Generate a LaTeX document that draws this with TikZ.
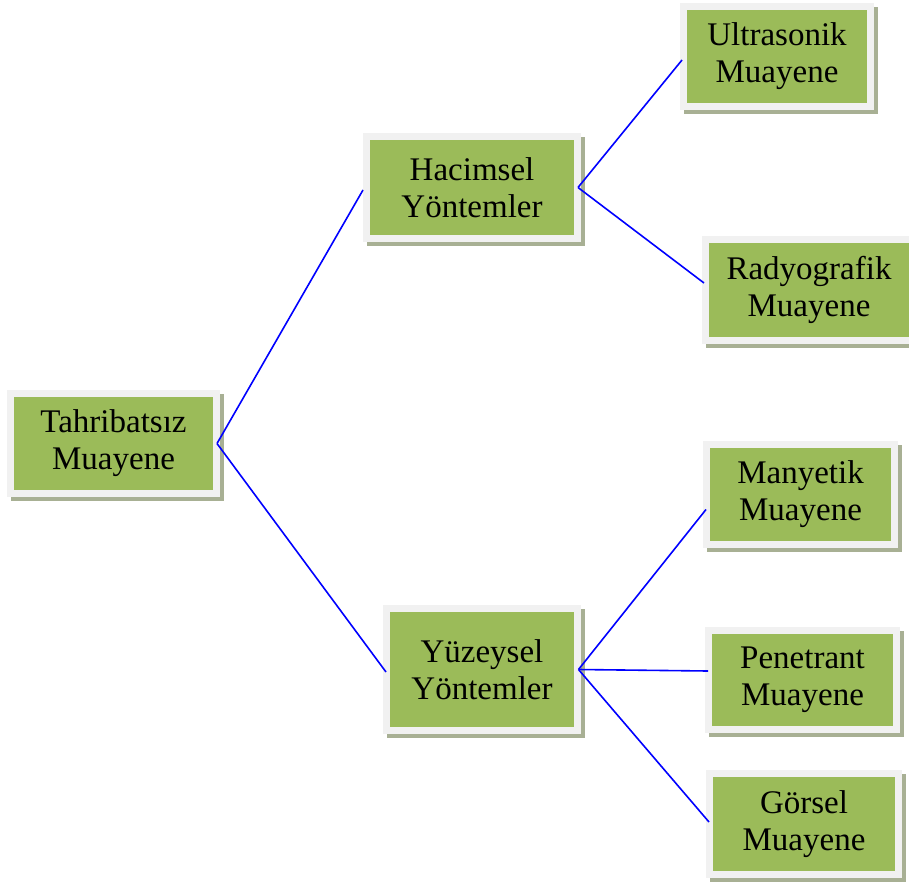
\documentclass[tikz,border=0pt]{standalone}
\usepackage{fontspec}
\setmainfont{Liberation Serif}
\usetikzlibrary{backgrounds}
\definecolor{boxgreen}{RGB}{155,187,89}
\definecolor{framegray}{RGB}{241,241,241}
\definecolor{shadowgray}{RGB}{168,176,148}
\begin{document}
\begin{tikzpicture}[x=1pt,y=-1pt,
  box/.style={fill=boxgreen, draw=framegray, line width=7pt, inner sep=0pt, align=center,
    text=black, font=\fontsize{33}{37}\selectfont},
  link/.style={draw=blue, line width=1.6pt}]
\useasboundingbox (0,0) rectangle (909,883);
\node[box, minimum width=206pt, minimum height=100pt] (T) at (113.5,443.5) {Tahribatsız\\Muayene};
\node[box, minimum width=211pt, minimum height=102pt] (H) at (472,187.5) {Hacimsel\\Yöntemler};
\node[box, minimum width=191pt, minimum height=122pt] (Y) at (482,669.5) {Yüzeysel\\Yöntemler};
\node[box, minimum width=187pt, minimum height=100pt] (U) at (777,56.5) {Ultrasonik\\Muayene};
\node[box, minimum width=207pt, minimum height=101pt] (R) at (809,290) {Radyografik\\Muayene};
\node[box, minimum width=188pt, minimum height=100pt] (M) at (800.5,494.5) {Manyetik\\Muayene};
\node[box, minimum width=188pt, minimum height=99pt] (P) at (802.5,680) {Penetrant\\Muayene};
\node[box, minimum width=189pt, minimum height=101pt] (G) at (804,824) {Görsel\\Muayene};
\begin{scope}[on background layer]
  \foreach \n in {T,H,Y,U,R,M,P,G}
    \fill[shadowgray] ([shift={(4,4)}]\n.south west) rectangle ([shift={(4,4)}]\n.north east);
\end{scope}
\coordinate (Tout) at ([xshift=-3pt]T.east);
\coordinate (Hout) at ([xshift=-3pt]H.east);
\coordinate (Yout) at ([xshift=-2.5pt]Y.east);
\draw[link] (Tout) -- ([shift={(0,2.5)}]H.west);
\draw[link] (Tout) -- ([shift={(3,2.5)}]Y.west);
\draw[link] (Hout) -- ([shift={(2,3.5)}]U.west);
\draw[link] (Hout) -- ([shift={(2,-7)}]R.west);
\draw[link] (Yout) -- ([shift={(3,15)}]M.west);
\draw[link] (Yout) -- ([shift={(3,-9)}]P.west);
\draw[link] (Yout) -- ([shift={(3,-2)}]G.west);
\end{tikzpicture}
\end{document}
